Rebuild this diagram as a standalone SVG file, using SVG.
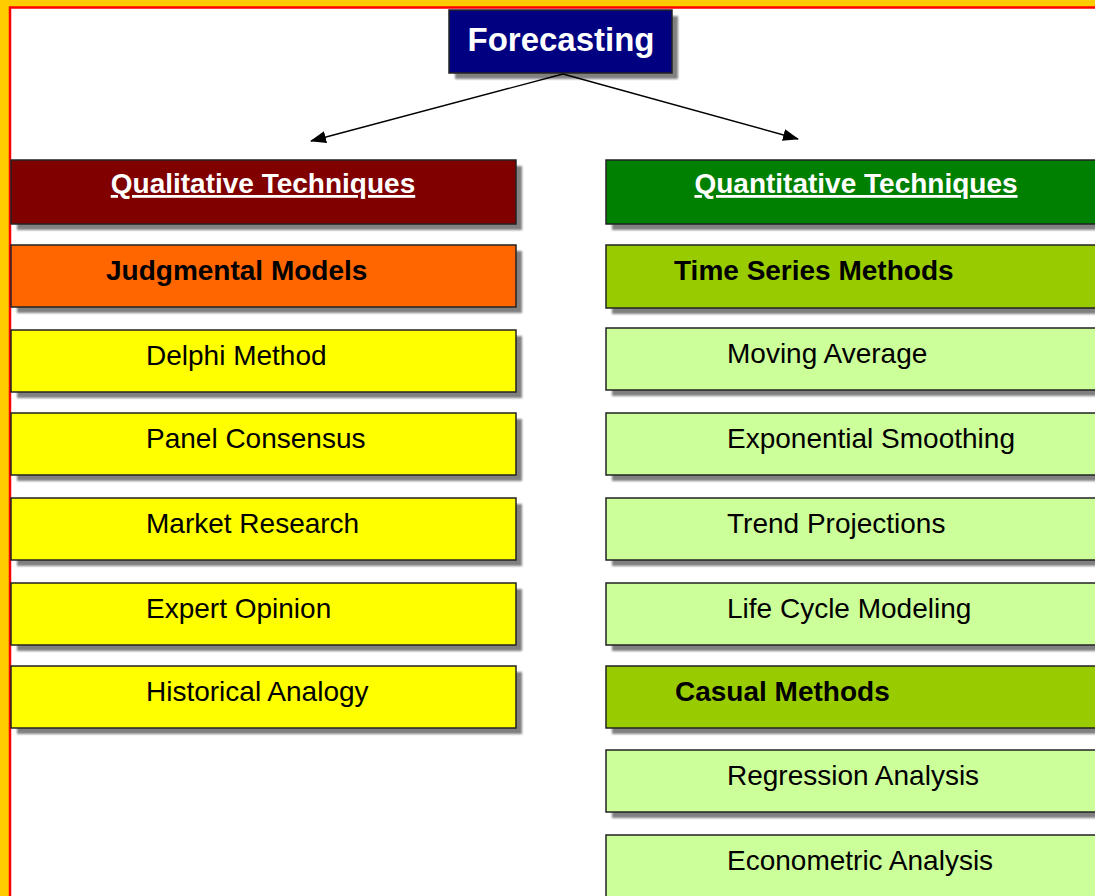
<svg xmlns="http://www.w3.org/2000/svg" width="1095" height="896" viewBox="0 0 1095 896">
<defs>
<filter id="soft" x="-5%" y="-20%" width="110%" height="140%"><feGaussianBlur stdDeviation="1"/></filter>
<marker id="arr" viewBox="0 0 16 12" refX="15" refY="6" markerWidth="16" markerHeight="12" markerUnits="userSpaceOnUse" orient="auto"><path d="M0,0 L16,6 L0,12 Z" fill="#000"/></marker>
</defs>
<style>
.sh{fill:#808080;filter:url(#soft)}
.bx{stroke:#222;stroke-width:1.5}
.t{font-family:"Liberation Sans",Arial,sans-serif;font-size:28px;fill:#000}
.b{font-weight:bold}
.w{fill:#fff}
.u{text-decoration:underline}
.navy{fill:#000080}.maroon{fill:#800000}.green{fill:#008000}.orange{fill:#FF6600}.yellow{fill:#FFFF00}.lime{fill:#99CC00}.pale{fill:#CCFF99}
.conn{stroke:#000;stroke-width:1.4;fill:none}
</style>
<rect x="0" y="0" width="1095" height="896" fill="#FFCC00"/>
<rect x="10" y="7.5" width="1100" height="900" fill="#fff" stroke="#FF0000" stroke-width="2.5"/>

<g id="forecasting">
<rect class="sh" x="455" y="16" width="223" height="63"/>
<rect class="bx navy" x="449" y="10" width="223" height="63"/>
<text class="t b w" x="561" y="51" text-anchor="middle" style="font-size:33px">Forecasting</text>
</g>

<g id="qualitative">
<rect class="sh" x="17" y="166" width="505" height="64"/>
<rect class="bx maroon" x="11" y="160" width="505" height="64"/>
<text class="t b w u" x="263" y="193" text-anchor="middle">Qualitative Techniques</text>
</g>
<g id="judgmental">
<rect class="sh" x="17" y="251" width="505" height="62"/>
<rect class="bx orange" x="11" y="245" width="505" height="62"/>
<text class="t b" x="106" y="280">Judgmental Models</text>
</g>
<g id="delphi">
<rect class="sh" x="17" y="336" width="505" height="62"/>
<rect class="bx yellow" x="11" y="330" width="505" height="62"/>
<text class="t" x="146" y="365">Delphi Method</text>
</g>
<g id="panel">
<rect class="sh" x="17" y="419" width="505" height="62"/>
<rect class="bx yellow" x="11" y="413" width="505" height="62"/>
<text class="t" x="146" y="448">Panel Consensus</text>
</g>
<g id="market">
<rect class="sh" x="17" y="504" width="505" height="62"/>
<rect class="bx yellow" x="11" y="498" width="505" height="62"/>
<text class="t" x="146" y="533">Market Research</text>
</g>
<g id="expert">
<rect class="sh" x="17" y="589" width="505" height="62"/>
<rect class="bx yellow" x="11" y="583" width="505" height="62"/>
<text class="t" x="146" y="618">Expert Opinion</text>
</g>
<g id="historical">
<rect class="sh" x="17" y="672" width="505" height="62"/>
<rect class="bx yellow" x="11" y="666" width="505" height="62"/>
<text class="t" x="146" y="701">Historical Analogy</text>
</g>

<g id="quantitative">
<rect class="sh" x="612" y="166" width="500" height="64"/>
<rect class="bx green" x="606" y="160" width="500" height="64"/>
<text class="t b w u" x="856" y="193" text-anchor="middle">Quantitative Techniques</text>
</g>
<g id="timeseries">
<rect class="sh" x="612" y="251" width="500" height="63"/>
<rect class="bx lime" x="606" y="245" width="500" height="63"/>
<text class="t b" x="674" y="280">Time Series Methods</text>
</g>
<g id="moving">
<rect class="sh" x="612" y="334" width="500" height="62"/>
<rect class="bx pale" x="606" y="328" width="500" height="62"/>
<text class="t" x="727" y="363">Moving Average</text>
</g>
<g id="exponential">
<rect class="sh" x="612" y="419" width="500" height="62"/>
<rect class="bx pale" x="606" y="413" width="500" height="62"/>
<text class="t" x="727" y="448">Exponential Smoothing</text>
</g>
<g id="trend">
<rect class="sh" x="612" y="504" width="500" height="62"/>
<rect class="bx pale" x="606" y="498" width="500" height="62"/>
<text class="t" x="727" y="533">Trend Projections</text>
</g>
<g id="lifecycle">
<rect class="sh" x="612" y="589" width="500" height="62"/>
<rect class="bx pale" x="606" y="583" width="500" height="62"/>
<text class="t" x="727" y="618">Life Cycle Modeling</text>
</g>
<g id="casual">
<rect class="sh" x="612" y="672" width="500" height="62"/>
<rect class="bx lime" x="606" y="666" width="500" height="62"/>
<text class="t b" x="675" y="701">Casual Methods</text>
</g>
<g id="regression">
<rect class="sh" x="612" y="756" width="500" height="62"/>
<rect class="bx pale" x="606" y="750" width="500" height="62"/>
<text class="t" x="727" y="785">Regression Analysis</text>
</g>
<g id="econometric">
<rect class="sh" x="612" y="841" width="500" height="62"/>
<rect class="bx pale" x="606" y="835" width="500" height="62"/>
<text class="t" x="727" y="870">Econometric Analysis</text>
</g>

<g id="connectors">
<line class="conn" x1="563" y1="74" x2="311" y2="141" marker-end="url(#arr)"/>
<line class="conn" x1="563" y1="74" x2="798" y2="139" marker-end="url(#arr)"/>
</g>
</svg>
